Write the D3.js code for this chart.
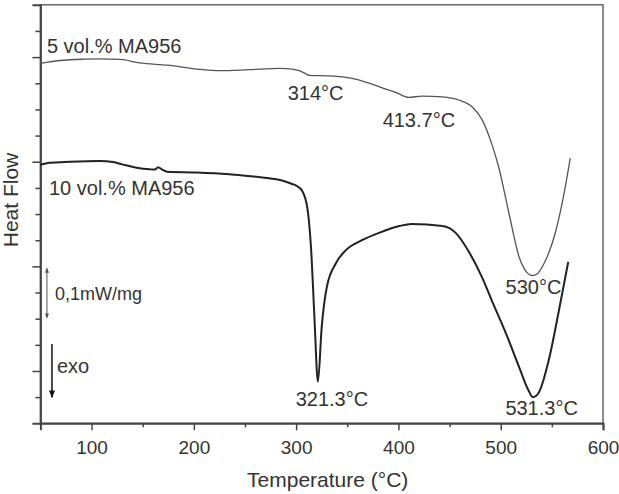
<!DOCTYPE html>
<html>
<head>
<meta charset="utf-8">
<script src="https://cdn.jsdelivr.net/npm/d3@7"></script>
<style>
  body { margin: 0; background: #fff; }
  text { font-family: "Liberation Sans", Arial, sans-serif; fill: #333; }
</style>
</head>
<body>
<div id="dsc"></div>
<script>
const width = 619,
height = 494;

// plot area
const plotLeft = 40.4, plotRight = 603, plotTop = 4.8, plotBottom = 423.3

// temperature (°C) and heat flow (arbitrary units, one unit per small tick)
const temp5 = [50, 69, 92, 108, 128, 147, 174, 206, 225, 254, 284, 296, 303, 310, 313, 332, 359, 381, 398, 410, 423, 443, 459, 472, 482, 491, 498, 508, 518, 526, 530, 534, 544, 554, 562, 568]
const flow5 = [13.76, 13.87, 13.92, 13.93, 13.91, 13.78, 13.69, 13.53, 13.48, 13.52, 13.57, 13.54, 13.48, 13.35, 13.30, 13.28, 13.15, 12.87, 12.64, 12.46, 12.51, 12.48, 12.36, 12.10, 11.59, 10.71, 9.80, 8.04, 6.36, 5.75, 5.65, 5.67, 6.24, 7.38, 8.80, 10.14]

const temp10 = [50, 59, 79, 108, 121, 130, 144, 157, 162, 165, 169, 174, 203, 235, 267, 287, 296, 300, 306, 311, 315, 318, 321.3, 325, 330, 339, 349, 365, 381, 401, 413, 443, 456, 469, 482, 491, 505, 518, 527, 531.3, 537, 547, 557, 566]
const flow10 = [9.88, 9.96, 10.00, 10.03, 9.99, 9.90, 9.77, 9.71, 9.70, 9.79, 9.70, 9.62, 9.59, 9.52, 9.40, 9.27, 9.15, 9.09, 8.88, 8.23, 6.43, 3.94, 1.59, 3.68, 5.21, 6.13, 6.63, 7.01, 7.28, 7.54, 7.62, 7.54, 7.28, 6.55, 5.56, 4.72, 3.45, 2.15, 1.27, 1.00, 1.16, 2.42, 4.33, 6.17]

const xTicks = [100, 200, 300, 400, 500, 600]
const xMinor = [50, 150, 250, 350, 450, 550]
const yMajor = [2, 6, 10, 14]
const yMinor = [1, 3, 4, 5, 7, 8, 9, 11, 12, 13, 15]

const peakLabels = ["314°C", "413.7°C", "530°C", "321.3°C", "531.3°C"]
const peakT = [319, 420, 532, 335, 540]
const peakV = [12.35, 11.34, 4.94, 0.66, 0.32]

const svg = d3.select("#dsc")
            .append("svg")
            .attr("width", width)
            .attr("height", height)

const x = d3.scaleLinear().domain([50, 600]).range([plotLeft, plotRight])
const y = d3.scaleLinear().domain([0, 16]).range([plotBottom, plotTop])

// frame
svg.append("rect")
  .attr("x", plotLeft)
  .attr("y", plotTop)
  .attr("width", plotRight - plotLeft)
  .attr("height", plotBottom - plotTop)
  .attr("fill", "none")
  .attr("stroke", "#666")
  .attr("stroke-width", 1.5)

// x axis
svg.append("g")
  .attr("transform", `translate(0,${plotBottom})`)
  .call(d3.axisBottom(x).tickValues(xMinor).tickSize(4).tickFormat(""))
  .call(g => g.select(".domain").remove())
  .selectAll("line").attr("stroke", "#444").attr("stroke-width", 1.5)

const xAxis = svg.append("g")
  .attr("transform", `translate(0,${plotBottom})`)
  .call(d3.axisBottom(x).tickValues(xTicks).tickSize(7).tickPadding(10))
xAxis.select(".domain").attr("stroke", "#444").attr("stroke-width", 2)
xAxis.selectAll("line").attr("stroke", "#444").attr("stroke-width", 1.5)
xAxis.selectAll("text")
  .style("font-family", "'Liberation Sans', Arial, sans-serif")
  .style("font-size", "19px")
  .attr("fill", "#333")

// y axis, no labels
svg.append("g")
  .attr("transform", `translate(${plotLeft},0)`)
  .call(d3.axisLeft(y).tickValues(yMinor).tickSize(5).tickFormat(""))
  .call(g => g.select(".domain").remove())
  .selectAll("line").attr("stroke", "#444").attr("stroke-width", 1.5)

const yAxis = svg.append("g")
  .attr("transform", `translate(${plotLeft},0)`)
  .call(d3.axisLeft(y).tickValues(yMajor).tickSize(8).tickFormat(""))
yAxis.select(".domain").attr("stroke", "#444").attr("stroke-width", 2)
yAxis.selectAll("line").attr("stroke", "#444").attr("stroke-width", 1.5)

// axis titles
svg.append("text")
  .attr("x", (plotLeft + plotRight) / 2 + 6)
  .attr("y", 487)
  .attr("text-anchor", "middle")
  .style("font-size", "21px")
  .text("Temperature (°C)")

svg.append("text")
  .attr("transform", `translate(18,200) rotate(-90)`)
  .attr("text-anchor", "middle")
  .style("font-size", "21px")
  .text("Heat Flow")

// curves
const line = d3.line()
  .x(d => x(d[0]))
  .y(d => y(d[1]))
  .curve(d3.curveMonotoneX)

svg.append("path")
  .datum(d3.zip(temp5, flow5))
  .attr("d", line)
  .attr("fill", "none")
  .attr("stroke", "#555")
  .attr("stroke-width", 1.3)

svg.append("path")
  .datum(d3.zip(temp10, flow10))
  .attr("d", line)
  .attr("fill", "none")
  .attr("stroke", "#222")
  .attr("stroke-width", 2)

// series names
svg.append("text")
  .attr("x", x(56.4))
  .attr("y", y(14.17))
  .style("font-size", "20px")
  .text("5 vol.% MA956")

svg.append("text")
  .attr("x", x(58.4))
  .attr("y", y(8.73))
  .style("font-size", "20px")
  .text("10 vol.% MA956")

// peak temperatures
svg.selectAll("peakLabels")
  .data(d3.zip(peakLabels, peakT, peakV))
  .join("text")
  .attr("x", d => x(d[1]))
  .attr("y", d => y(d[2]))
  .attr("text-anchor", "middle")
  .style("font-size", "20px")
  .text(d => d[0])

// scale bar and exo arrow
const defs = svg.append("defs")
defs.append("marker")
  .attr("id", "headGrey")
  .attr("viewBox", "0 0 10 10")
  .attr("refX", 9).attr("refY", 5)
  .attr("markerWidth", 5).attr("markerHeight", 7)
  .attr("orient", "auto-start-reverse")
  .append("path")
  .attr("d", "M0,1 L10,5 L0,9 Z")
  .attr("fill", "#555")
defs.append("marker")
  .attr("id", "headBlack")
  .attr("viewBox", "0 0 10 10")
  .attr("refX", 9).attr("refY", 5)
  .attr("markerWidth", 6).attr("markerHeight", 5)
  .attr("orient", "auto")
  .append("path")
  .attr("d", "M0,1 L10,5 L0,9 Z")
  .attr("fill", "#111")

svg.append("line")
  .attr("x1", x(56.4)).attr("x2", x(56.4))
  .attr("y1", y(5.93)).attr("y2", y(4.03))
  .attr("stroke", "#555")
  .attr("stroke-width", 1)
  .attr("marker-start", "url(#headGrey)")
  .attr("marker-end", "url(#headGrey)")

svg.append("text")
  .attr("x", x(64.2))
  .attr("y", y(4.71))
  .style("font-size", "18px")
  .text("0,1mW/mg")

svg.append("line")
  .attr("x1", x(61.3)).attr("x2", x(61.3))
  .attr("y1", y(3.03)).attr("y2", y(1.0))
  .attr("stroke", "#111")
  .attr("stroke-width", 1.5)
  .attr("marker-end", "url(#headBlack)")

svg.append("text")
  .attr("x", x(66.2))
  .attr("y", y(1.91))
  .style("font-size", "20px")
  .text("exo")
</script>
</body>
</html>
